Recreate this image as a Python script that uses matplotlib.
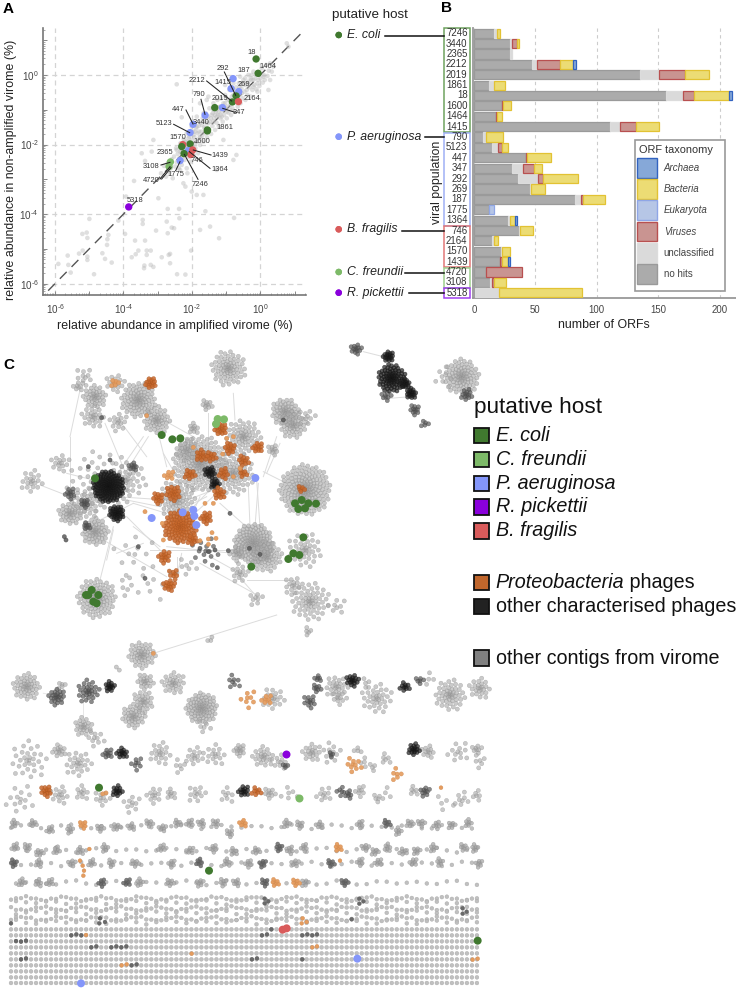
import math
import matplotlib
matplotlib.use("Agg")
import matplotlib.pyplot as plt
from matplotlib.patches import Rectangle
import numpy as np

W, H = 736, 989
plt.rcParams['font.family'] = ['Liberation Sans', 'DejaVu Sans']
plt.rcParams['mathtext.fontset'] = 'custom'
plt.rcParams['mathtext.rm'] = 'Liberation Sans'

# ---------- Panel A data: values, as crop readings (3x crop px) ----------
pop_names = ['18','1464','292','187','269','1415','2212','2164','2019','347','790','447','3440','1861',
             '5123','1600','1570','2365','1364','1439','746','7246','1775','3108','4720','5318']
pop_read_x = [768,774,699,693,716,708,697,715,644,667,615,579,622,622,570,570,548,545,565,578,572,552,540,511,507,386]
pop_read_y = [177,220,236,266,275,288,306,305,323,323,346,373,393,390,398,432,434,440,452,450,464,461,482,486,500,621]
pop_host = ['ec','ec','pa','pa','pa','ec','ec','bf','ec','pa','pa','pa','ec','ec','pa','ec','bf','ec','pa','bf','bf','ec','pa','cf','cf','rp']

bg_sparse = [(175,792),(203,767),(205,795),(212,818),(247,702),(260,698),(248,752),(237,761),(262,714),(268,657),(262,770),
 (262,780),(282,823),(307,760),(315,777),(321,735),(325,705),(322,718),(335,788),(355,662),(375,702),(405,722),(395,772),
 (407,763),(415,752),(428,660),(428,672),(435,722),(440,752),(452,752),(440,765),(433,797),(432,805),(452,795),(460,801),
 (468,692),(485,772),(503,627),(500,665),(503,700),(515,683),(522,685),(506,765),(510,762),(510,790),(531,823),(556,824),
 (537,627),(538,655),(573,752),(600,690),(616,634),(630,680),(657,715),(702,654),(402,543),(475,595),(378,590),(610,585),
 (556,560),(590,585),(575,575),(550,550),(562,520),(540,510),(460,420),(435,483),(425,460),(455,455),(530,253),(545,352),
 (600,310),(625,290),(860,130),(865,140),(805,270),(810,240),(772,275),(709,465),(700,480),(650,510),(670,420)]
bg_cloud = [(483,520),(492,498),(498,530),(503,490),(508,518),(512,505),(515,478),(518,535),(522,470),(525,500),
 (528,445),(530,487),(533,462),(536,505),(538,475),(541,430),(543,455),(545,495),(548,468),(551,418),(553,480),(556,445),(558,462),(560,505),
 (562,425),(564,440),(566,470),(568,410),(570,452),(572,485),(575,420),(577,438),(579,395),(581,465),(583,412),(586,445),(588,385),(590,425),(592,400),(594,460),(596,378),(598,415),(600,435),
 (602,368),(604,395),(606,408),(608,355),(610,425),(612,382),(615,400),(617,340),(619,370),(621,412),(624,350),(626,388),(628,325),(630,365),(633,402),(635,345),(637,378),(640,310),(642,355),(645,390),(647,335),(649,368),
 (652,300),(654,345),(656,378),(658,322),(661,355),(663,295),(665,335),(668,365),(670,310),(672,345),(675,285),(677,325),(680,355),(682,300),(685,338),(688,270),(690,315),(693,345),(695,290),(697,325),(700,268),
 (702,305),(705,335),(708,262),(710,295),(713,320),(716,250),(718,285),(721,310),(724,265),(727,295),(730,240),(733,275),(736,300),(739,250),(742,285),(745,225),(748,262),(751,290),(754,240),(757,270),(760,215),(763,255),
 (766,235),(769,268),(772,250),(775,218),(778,258),(781,235),(785,205),(788,248),(791,225),(794,240),(798,195),(802,228),(806,212),(810,190),(815,215),(820,200),
 (590,350),(610,340),(575,380),(560,400),(640,330),(660,320),(620,300),(720,230),(700,250),(675,255),(735,255),(755,225),
 (530,450),(540,440),(550,432),(555,425),(565,415),(570,430),(580,405),(585,395),(590,380),(597,395),(605,375),(612,365),(618,355),(625,370),(632,355),(638,340),(645,345),(650,330),(655,335),(660,345),(668,318),(675,310),(680,320),(688,300),(695,308),(700,285),(705,280),(712,275),(718,262),(725,250),(735,235),(745,245),(752,235),(760,240),(770,225),(540,455),(548,445),(560,440),(575,450),(585,430),(600,410),(615,385),(628,390),(640,365),(650,350),(665,350),(680,335),(692,330),(710,305),(725,280),(740,270),(760,260),(775,240),(790,230)]

def a_x(z): return 10 ** ((np.asarray(z, float) - 165) / 102.6 - 6)
def a_y(z): return 10 ** ((225 - np.asarray(z, float)) / 104.4)

# ---------- Panel B data ----------
pops_b = ['7246','3440','2365','2212','2019','1861','18','1600','1464','1415','790','5123','447','347','292','269','187',
          '1775','1364','746','2164','1570','1439','4720','3108','5318']
no_hits      = [16,29,29,47,135.5,12,156,22.5,17.7,111,7,15,42.5,31,36,45.5,82,12,28,36.5,15,22,21.5,9.5,13.3,1]
unclassified = [2.5,2,2,4.5,15.5,4,14,0,0,8,2.5,4.5,0,9,16,1.2,5,0,1,1,1,1,0,0,1.4,19.4]
eukaryota    = [0,0,0,0,0,0,0,0,0,0,0,0,0,0,0,0,0,4,0,0,0,0,0,0,0,0]
viruses      = [0,4,0,18.5,21,0,9,1.5,1.3,13,0,3,1,8.5,4.5,0,2,0,0,0,0,0,1.5,30,1.6,0]
bacteria     = [2.5,1.5,0,11,19,9,29,6,4,19,14.5,5.5,19,6.5,28.5,11.3,18,0,4.5,10.5,3.5,6,4.7,0,9.7,67.6]
archaea      = [0,0,0,2,0,0,2,0,0,0,0,0,0,0,0,0,0,0,1.5,0,0,0,1.3,0,0,0]

tax_names = ['Archaea','Bacteria','Eukaryota','Viruses','unclassified','no hits']
tax_fill = {'Archaea':'#86a8d8','Bacteria':'#ecdc74','Eukaryota':'#b6c6e6','Viruses':'#c99491','unclassified':'#dadada','no hits':'#ababab'}
tax_edge = {'Archaea':'#3263c0','Bacteria':'#e2c233','Eukaryota':'#8fa6e6','Viruses':'#b85050','unclassified':'#dcdcdc','no hits':'#9a9a9a'}

hostc = {'ec':'#40792f','cf':'#7dba68','pa':'#8496fa','rp':'#8a00dc','bf':'#d95b5b'}

def ax_px(l, t, r, b):
    return [l / W, 1 - b / H, (r - l) / W, (b - t) / H]

fig = plt.figure(figsize=(W / 100, H / 100), dpi=100, facecolor='white')

# ---------- Panel A ----------
axA = fig.add_axes(ax_px(42.7, 28, 306, 295))
axA.set_xscale('log'); axA.set_yscale('log')
axA.set_xlim(10 ** -6.36, 10 ** 1.336); axA.set_ylim(10 ** -6.325, 10 ** 1.35)
axA.plot([10**-6.2, 10**1.25], [10**-6.2, 10**1.25], color='#555555', lw=1.0, dashes=(7, 5), zorder=1)
for pts in (bg_sparse, bg_cloud):
    zx, zy = zip(*pts)
    axA.scatter(a_x(zx), a_y(zy), s=np.full(len(zx), 11.0), color='#bdbdbd', alpha=0.48, linewidths=0, zorder=2)
axA.scatter(a_x(pop_read_x), a_y(pop_read_y), s=np.full(len(pop_read_x), 28.0), c=[hostc[h] for h in pop_host], linewidths=0, zorder=4)
dec = [10.0 ** k for k in range(-6, 2)]
axA.set_xticks(dec); axA.set_yticks(dec)
lab = ['10$^{\\mathdefault{\u2010%d}}$' % -k if k < 0 else '10$^{\\mathdefault{%d}}$' % k for k in range(-6, 2)]
lab = [l if k % 2 == 0 else '' for l, k in zip(lab, range(-6, 2))]
axA.set_xticklabels(lab); axA.set_yticklabels(lab)
axA.xaxis.set_minor_locator(matplotlib.ticker.LogLocator(base=10, subs=range(2, 10), numticks=20))
axA.yaxis.set_minor_locator(matplotlib.ticker.LogLocator(base=10, subs=range(2, 10), numticks=20))
axA.xaxis.set_minor_formatter(matplotlib.ticker.NullFormatter())
axA.yaxis.set_minor_formatter(matplotlib.ticker.NullFormatter())
axA.tick_params(which='major', direction='in', length=3, width=0.7, color='#888888', labelsize=7.1, labelcolor='#444444', pad=3)
axA.tick_params(axis='x', which='major', pad=5)
axA.tick_params(which='minor', direction='in', length=1.5, width=0.5, color='#888888')
for k in (-6, -4, -2, 0):
    axA.axvline(10.0 ** k, color='#d4d4d4', lw=0.9, dashes=(4, 3), zorder=0)
    axA.axhline(10.0 ** k, color='#d4d4d4', lw=0.9, dashes=(4, 3), zorder=0)
for s in ('top', 'right'):
    axA.spines[s].set_visible(False)
for s in ('left', 'bottom'):
    axA.spines[s].set_color('#777777'); axA.spines[s].set_linewidth(1.2)
axA.set_xlabel('relative abundance in amplified virome (%)', fontsize=8.9, color='#222222', labelpad=3)
axA.set_ylabel('relative abundance in non-amplified virome (%)', fontsize=8.9, color='#222222')
axA.yaxis.set_label_coords(-0.097, 0.468)

# ---------- Panel B ----------
axB = fig.add_axes(ax_px(472.7, 28, 736, 298))
axB.set_xlim(-1, 213.3); axB.set_ylim(25.5, -0.5)
y = np.arange(len(pops_b))
left = np.zeros(len(pops_b))
for name, vals in [('no hits', no_hits), ('unclassified', unclassified), ('Eukaryota', eukaryota),
                   ('Viruses', viruses), ('Bacteria', bacteria), ('Archaea', archaea)]:
    vals = np.array(vals, float)
    keep = vals > 0
    axB.barh(y[keep], vals[keep], left=left[keep], height=0.88, color=tax_fill[name], edgecolor=tax_edge[name], linewidth=0.9, zorder=3)
    left += vals
axB.set_xticks([0, 50, 100, 150, 200])
axB.set_yticks([])
axB.tick_params(axis='x', length=0, labelsize=6.9, labelcolor='#444444', pad=5)
axB.xaxis.grid(True, color='#cccccc', lw=0.8, dashes=(3, 3), zorder=0)
axB.set_axisbelow(True)
for s in ('top', 'right'):
    axB.spines[s].set_visible(False)
for s in ('left', 'bottom'):
    axB.spines[s].set_color('#999999'); axB.spines[s].set_linewidth(1.3)
axB.set_xlabel('number of ORFs', fontsize=8.9, color='#222222', labelpad=3)

# ---------- overlay in picture pixels ----------
ov = fig.add_axes([0, 0, 1, 1], zorder=10)
ov.set_xlim(0, W); ov.set_ylim(H, 0); ov.axis('off'); ov.patch.set_alpha(0)

for txt, x_, y_ in [('A', 3, 9), ('B', 441, 8), ('C', 3, 365)]:
    ov.text(x_, y_, txt, fontsize=11, fontweight='bold', color='black', ha='left', va='center')

# Panel A leaders (3x crop readings)
a_labels = [('18',756,157),('1464',805,200),('187',730,212),('292',669,204),('1415',668,247),('269',733,253),('2212',590,243),
 ('2019',660,296),('2164',757,296),('347',717,339),('790',596,285),('447',535,328),('3440',603,368),('5123',492,371),
 ('1861',674,382),('1570',533,413),('1600',606,424),('2365',495,456),('1439',660,467),('746',592,483),('1364',660,509),
 ('3108',454,498),('1775',528,525),('4720',455,541),('7246',600,552),('5318',406,600)]
a_lines = [(673,216,707,286),(620,243,695,303),(705,337,668,325),(603,298,615,343),(558,330,579,372),(521,373,569,398),
 (633,465,580,450),(630,505,568,455),(483,495,510,487),(527,512,540,485),(480,537,510,500),(485,537,513,503),(594,538,553,463)]
for x1, y1, x2, y2 in a_lines:
    ov.plot([x1 / 3, x2 / 3], [y1 / 3, y2 / 3], color='#222222', lw=0.75, zorder=5)
for t, zx, zy in a_labels:
    ov.text(zx / 3, zy / 3, t, fontsize=5.4, color='#333333', ha='center', va='center', zorder=6)

# Panel B row labels and host boxes
row_h = 270 / 26
for i, p in enumerate(pops_b):
    ov.text(467.5, 28 + row_h * (i + 0.5), p, fontsize=6.9, color='#333333', ha='right', va='center')
boxes = [(28.3, 132.3, '#6fa35f'), (133, 225.7, '#9fb0f5'), (226, 267, '#e27878'), (268, 287.7, '#9fd08e'), (288, 298, '#a040f0')]
for t, b, c in boxes:
    ov.add_patch(Rectangle((444, t), 25.7, b - t, fill=False, edgecolor=c, lw=1.1))
ov.text(331.7, 15, 'putative host', fontsize=9.6, color='#222222', ha='left', va='center')
hosts = [('E. coli', 35, 36, 385, 'ec'), ('P. aeruginosa', 136.7, 137, 424.7, 'pa'), ('B. fragilis', 229.3, 230.5, 402, 'bf'),
         ('C. freundii', 272, 272.5, 405, 'cf'), ('R. pickettii', 292.7, 293, 408.7, 'rp')]
for name, ty, ly, lx, key in hosts:
    ov.scatter([338.7, 338.7], [ty, ty], s=np.array([22.0, 22.0]), color=hostc[key], linewidths=0)
    ov.text(347, ty, name, fontsize=8.8, style='italic', color='#222222', ha='left', va='center')
    ov.plot([lx, 444], [ly, ly], color='#111111', lw=1.1)
ov.text(436.7, 182, 'viral population', fontsize=8.8, rotation=90, color='#222222', ha='center', va='center')

# Panel B legend
ov.add_patch(Rectangle((635, 140), 90, 151, facecolor='white', edgecolor='#999999', lw=1.2, zorder=7))
ov.text(639, 150, 'ORF taxonomy', fontsize=7.9, color='#333333', ha='left', va='center', zorder=8)
leg_top = [158, 179, 200, 221.7, 243, 264]
for name, t in zip(tax_names, leg_top):
    ov.add_patch(Rectangle((637.3, t), 19.7, 19.7, facecolor=tax_fill[name], edgecolor=tax_edge[name], lw=1.0, zorder=8))
    ov.text(663.7, t + 10, name, fontsize=7, color='#444444', ha='left', va='center', zorder=8,
            style='italic' if name not in ('unclassified', 'no hits') else 'normal')

# Panel C legend
LEGFS = 14.2
ov.text(473.5, 407, 'putative host', fontsize=16.2, color='#111111', ha='left', va='center')
c_leg = [('E. coli', 427.7, '#40792f', 'italic'), ('C. freundii', 451.7, '#7dba68', 'italic'), ('P. aeruginosa', 475.7, '#8496fa', 'italic'),
         ('R. pickettii', 499, '#8a00dc', 'italic'), ('B. fragilis', 523, '#d95b5b', 'italic'),
         ('', 574.7, '#c0662c', 'mixed'), ('other characterised phages', 598.7, '#222222', 'normal'),
         ('other contigs from virome', 650, '#808080', 'normal')]
for name, t, c, st in c_leg:
    ov.add_patch(Rectangle((473.5, t), 15.5, 15.5, facecolor=c, edgecolor='#111111', lw=1.3))
    if st == 'mixed':
        lbl = ov.text(495.5, t + 8, 'Proteobacteria', fontsize=LEGFS, style='italic', color='#111111', ha='left', va='center')
        ov.annotate(' phages', xy=(1, 0.5), xycoords=lbl, fontsize=LEGFS, color='#111111', ha='left', va='center')
    else:
        ov.text(495.5, t + 8, name, fontsize=LEGFS, style=st, color='#111111', ha='left', va='center')

# ---------- Panel C network: groups, as (x, y, radius, node count) in 3x crop px ----------
net_edges_top = [(240,150,210,290),(210,290,210,440),(315,250,375,395),(365,250,440,350),(430,290,360,390),(445,290,375,400),
 (490,340,530,410),(700,160,705,240),(625,220,625,320),(490,240,580,290),(470,260,500,380),(650,460,540,560),(640,440,480,480),
 (640,450,510,500),(620,470,520,520),(660,490,750,570),(745,440,750,560),(775,430,765,560),(770,420,780,560),(790,410,830,290),
 (800,400,840,310),(790,395,860,430),(380,530,500,650),(400,560,480,620),(340,560,300,720),(340,570,320,660),(310,600,500,710),
 (350,640,430,610),(450,630,700,630),(500,620,700,640),(530,650,530,710),(545,640,535,690),(600,670,780,770),(630,650,720,700),
 (740,720,880,720),(830,825,460,940),(400,490,500,520),(280,550,400,490),(120,435,210,470),(700,690,770,770),(200,400,280,420),
 (1090,35,1150,50),(1170,175,1230,170),(350,470,500,480),(380,480,480,500),(560,560,600,470),(540,540,630,450)]
net_edges_low = [(130,100,170,105),(250,120,250,190),(270,90,330,85)]

top_grey = [(685,85,45,70),(415,180,45,90),(285,170,30,40),(255,110,25,10),(235,140,15,8),(345,130,25,18),(470,240,35,50),(280,230,30,25),
 (355,245,25,15),(620,195,15,10),(855,215,35,60),(880,255,35,50),(920,230,25,10),(580,265,15,10),(730,290,45,60),(600,370,70,170),
 (700,400,55,80),(820,330,15,10),(560,330,30,30),(915,450,65,190),(380,420,50,40),(180,370,25,15),(95,425,30,20),(210,520,30,40),
 (285,575,35,60),(260,490,40,40),(530,480,50,70),(760,610,50,150),(800,650,40,60),(710,640,20,15),(720,700,25,15),(915,630,45,40),
 (880,735,25,15),(930,785,50,60),(1010,800,25,8),(925,875,12,5),(290,775,50,100),(768,775,20,8),(425,945,35,50),(400,640,60,12),
 (450,730,60,10),(1385,110,45,90),(1330,110,30,8),(300,430,85,60),(630,900,10,3),(350,985,10,2),(380,745,25,5),(560,680,30,8)]
top_dark = [(400,380,12,10),(210,460,15,12),(620,635,40,14),(1068,28,15,14),(1158,170,14,8),(1245,210,14,12),(1275,250,12,5),(1400,165,16,14),(255,490,12,10),(260,558,10,8)]
top_black = [(325,440,40,170),(350,520,20,40),(630,397,15,18),(645,432,13,14),(1165,50,14,20),(1175,115,36,90),(1215,130,13,18),(1233,160,14,20)]
top_orange = [(540,560,42,110),(475,475,15,14),(520,460,20,24),(452,130,14,20),(662,268,16,20),(690,325,15,16),(773,323,14,14),(603,347,15,14),
 (633,350,15,12),(730,362,15,12),(570,403,15,12),(670,400,15,12),(728,400,12,7),(657,460,16,16),(618,533,16,16),(578,600,15,12),
 (493,650,17,16),(522,703,15,8),(507,737,16,16),(903,447,10,6)]
top_lorange = [(345,128,12,6),(507,407,14,8)]
top_orange_single = [(435,515),(487,550),(490,600),(636,578),(648,595),(625,613),(625,597),(600,602),(615,490),(640,490),(700,290),(680,295),(668,342),(720,385),(700,410),(440,227),(580,322),(460,940)]
top_dark_single = [(265,380),(330,360),(193,590),(198,600),(600,625),(625,635),(645,630),(685,632),(690,520),(652,683),(435,715),(415,620),(305,233),(780,643),(748,625),(850,240)]

low_grey = [(80,80,35,50),(185,75,12,5),(250,200,25,25),(285,235,25,10),(430,125,28,30),(435,65,22,20),(400,170,30,40),(520,70,30,30),(605,145,40,90),
 (610,200,20,6),(820,115,30,20),(1010,80,30,25),(1017,115,20,10),(1130,115,40,35),(1350,105,40,50),(1440,85,28,24),(1290,60,20,4),(1100,70,15,4),
 (85,300,50,30),(178,272,18,14),(235,310,35,25),(480,280,30,20),(583,290,25,14),(645,285,30,16),(718,270,16,14),(790,290,28,24),(840,305,22,10),
 (935,278,25,20),(995,280,28,12),(1120,322,12,4),(1156,296,16,6),(1285,275,18,12),(1375,278,30,12),(1430,268,14,8),(1440,305,20,6),(1075,270,12,4),(1090,305,15,4),
 (60,420,40,14),(180,405,25,14),(245,398,20,10),(305,415,22,10),(395,430,25,10),(462,405,22,12),(512,402,15,8),(590,400,25,12),(680,405,22,8),(808,400,16,10),
 (870,400,25,6),(972,405,22,10),(1080,392,16,8),(1133,415,14,6),(1240,392,14,6),(1330,430,28,5),(1385,420,22,8),(1430,405,15,6),(540,320,20,6),(1160,395,18,3)]
low_dark = [(170,110,22,25),(265,95,30,30),(700,65,20,8),(930,125,18,12),(950,85,12,8),(955,55,10,6),(1258,62,12,6),(323,282,14,10),(410,310,18,8),(995,285,8,4),(1045,403,13,8),(1020,392,14,5),(1275,394,14,10),(855,318,8,4)]
low_black = [(330,80,14,14),(1057,62,17,18),(1215,80,14,10),(367,279,15,14),(1242,269,16,18),(352,394,15,14),(731,394,15,14)]
low_orange = [(139,394,15,14),(770,394,14,8)]
low_lorange = [(745,115,25,8),(800,120,15,8),(1060,315,22,10),(1190,345,18,6),(315,398,8,2)]

flower_rows_grey = [(43,492),(100,490),(150,510),(210,510),(300,505),(350,500),(395,500),(447,490),(487,505),(532,490),(569,490),(605,490),(648,490),(690,520),(860,492),(900,495),(960,495),(1080,492),(1195,515),(1230,490),(1263,490),(1310,495),(1355,495),(1405,490),
 (45,562),(83,562),(120,578),(170,572),(240,572),(315,565),(485,565),(570,572),(640,565),(700,575),(770,572),(870,570),(912,562),(1095,563),(1125,575),(1162,562),(1210,575),(1250,572),(1300,565),(1390,562),(1425,565),
 (115,610),(215,610),(275,610),(335,610),(405,610),(515,610),(680,607),(745,610),(885,610),(1080,605),(1135,608),(1240,607),(1320,607),(1437,610),
 (65,668),(115,668),(150,668),(420,668),(510,668),(600,668),(670,668),(710,668),(915,668)]
flower_rows_dark = [(1160,490),(838,563),(42,610),(597,607),(788,610),(992,610),(305,668),(381,668),(795,668),(1033,668)]
flower_rows_lorange = [(250,495),(730,490),(1014,563),(825,668),(887,668)]
chain_row_y = [500,570,612,668,716,727,746,757,776,786]
chain_lorange = [(268,567),(240,602),(248,617),(252,632),(250,647),(1020,602),(1323,383),(908,775),(905,790),(920,786),(258,825),(937,862),(951,859),(575,881),(365,916),(380,913),(1418,899),(1433,896)]
chain_dark = [(794,716),(805,724),(794,730),(1078,716),(1090,724),(1078,731),(1388,745),(1400,755),(1388,761),(300,775),(315,786),(298,790),(1055,778),
 (33,790),(814,808),(786,826),(801,823),(214,826),(229,823),(244,826),(907,826),(922,823),(937,826),(951,823),(48,843),(63,845),(78,842),
 (274,862),(289,859),(334,862),(349,859),(364,862),(379,859),(63,898),(78,895),(756,898),(771,895),(907,898),(395,916),(410,913)]
grid_rows_y = [808,826,844,862,880,898,916,934,952,969]

big_top = {'ec':[(485,285),(517,298),(541,295),(285,415),(910,592),(754,680),(865,657),(880,640),(898,645),(948,491),(885,490),(895,507),(915,505),(925,490),(905,480),(265,765),(275,750),(280,785),(290,790),(295,765),(258,765)],
           'cf':[(653,237),(672,238),(648,252)],
           'pa':[(766,414),(455,534),(548,517),(580,510),(583,528),(589,555)]}
big_low = {'ec':[(297,383),(627,632),(1433,842)],'rp':[(859,281)],'cf':[(896,415)],'bf':[(848,809),(860,805)],'pa':[(1072,896),(243,970)]}

SPREAD = 1.2
def sunflower(cx, cy, r, n, spread=SPREAD):
    out = []
    for i in range(n):
        rr = spread * r * ((i + 0.5) / n) ** 0.8
        th = i * 2.39996 + 0.3 * cx
        out.append((cx + rr * math.cos(th), cy + rr * math.sin(th)))
    return out

def collect(groups, off, spread=SPREAD):
    xs, ys = [], []
    for g in groups:
        for px, py in sunflower(*g, spread=spread):
            xs.append(px / 3); ys.append(off + py / 3)
    return xs, ys

NODE = 9.0
def draw(xs, ys, face, edge, alpha, s=NODE, z=3):
    # an array of sizes keeps the markers at their exact sub-pixel positions
    ov.scatter(xs, ys, s=np.full(len(xs), s), facecolor=face, edgecolor=edge, linewidths=0.3, alpha=alpha, zorder=z)

for x1, y1, x2, y2 in net_edges_top:
    ov.plot([x1 / 3, x2 / 3], [340 + y1 / 3, 340 + y2 / 3], color='#dcdcdc', lw=0.7, zorder=2)
for x1, y1, x2, y2 in net_edges_low:
    ov.plot([x1 / 3, x2 / 3], [660 + y1 / 3, 660 + y2 / 3], color='#e8e8e8', lw=0.7, zorder=2)

GREY, GEDGE = '#a8a8a8', '#8a8a8a'
for groups, off in ((top_grey, 340), (low_grey, 660)):
    xs, ys = collect(groups, off); draw(xs, ys, GREY, GEDGE, 0.6)
for groups, off in ((top_dark, 340), (low_dark, 660)):
    xs, ys = collect(groups, off); draw(xs, ys, '#5a5a5a', '#444444', 0.7, z=3.2)
for groups, off in ((top_black, 340), (low_black, 660)):
    xs, ys = collect(groups, off); draw(xs, ys, '#1e1e1e', '#111111', 0.7, z=3.3)
for groups, off in ((top_orange, 340), (low_orange, 660)):
    xs, ys = collect(groups, off); draw(xs, ys, '#c8682c', '#a85520', 0.85, z=3.5)
for groups, off in ((top_lorange, 340), (low_lorange, 660)):
    xs, ys = collect(groups, off); draw(xs, ys, '#e59c5e', '#d08a50', 0.9, z=3.5)
zx, zy = zip(*top_orange_single); draw(np.array(zx) / 3, 340 + np.array(zy) / 3, '#e59c5e', '#d08a50', 0.95, z=3.5)
zx, zy = zip(*top_dark_single); draw(np.array(zx) / 3, 340 + np.array(zy) / 3, '#5a5a5a', '#444444', 0.85, z=3.5)

# small flower motifs
for pts, face, edge, a in ((flower_rows_grey, GREY, GEDGE, 0.75), (flower_rows_dark, '#6a6a6a', '#555555', 0.85), (flower_rows_lorange, '#e59c5e', '#d08a50', 0.95)):
    xs, ys = collect([(x_, y_, 13, 8) for x_, y_ in pts], 660, spread=1.0)
    draw(xs, ys, face, edge, a, s=7.5, z=3.4)

# chains and grid of singletons at the bottom of the panel
xs, ys = [], []
for k, ry in enumerate(chain_row_y):
    for j, zx_ in enumerate(np.arange(33, 1440, 15.03)):
        if k < 4 and (j + k) % 2 != 0:
            continue
        if k >= 4 and k % 2 == 1 and j % 2 == 0:
            continue
        wob = 5 * math.sin(zx_ * 0.055 + 1.7 * k) + 2.5 * math.sin(zx_ * 0.17 + k)
        xs.append(zx_ / 3); ys.append(660 + (ry + wob) / 3)
for ry in grid_rows_y:
    for zx_ in np.arange(33, 1440, 15.03):
        xs.append(zx_ / 3); ys.append(660 + ry / 3)
draw(xs, ys, '#bdbdbd', '#a8a8a8', 0.95, s=7.5, z=3)
zx, zy = zip(*chain_dark); draw(np.array(zx) / 3, 660 + np.array(zy) / 3, '#6a6a6a', '#555555', 1, s=7.5, z=3.6)
zx, zy = zip(*chain_lorange); draw(np.array(zx) / 3, 660 + np.array(zy) / 3, '#e59c5e', '#d08a50', 1, s=7.5, z=3.6)

for d, off in ((big_top, 340), (big_low, 660)):
    for key, pts in d.items():
        zx, zy = zip(*pts)
        ov.scatter(np.array(zx) / 3, off + np.array(zy) / 3, s=np.full(len(zx), 33.0), color=hostc[key], linewidths=0, zorder=5)

fig.savefig('out.png', dpi=100, facecolor='white')
